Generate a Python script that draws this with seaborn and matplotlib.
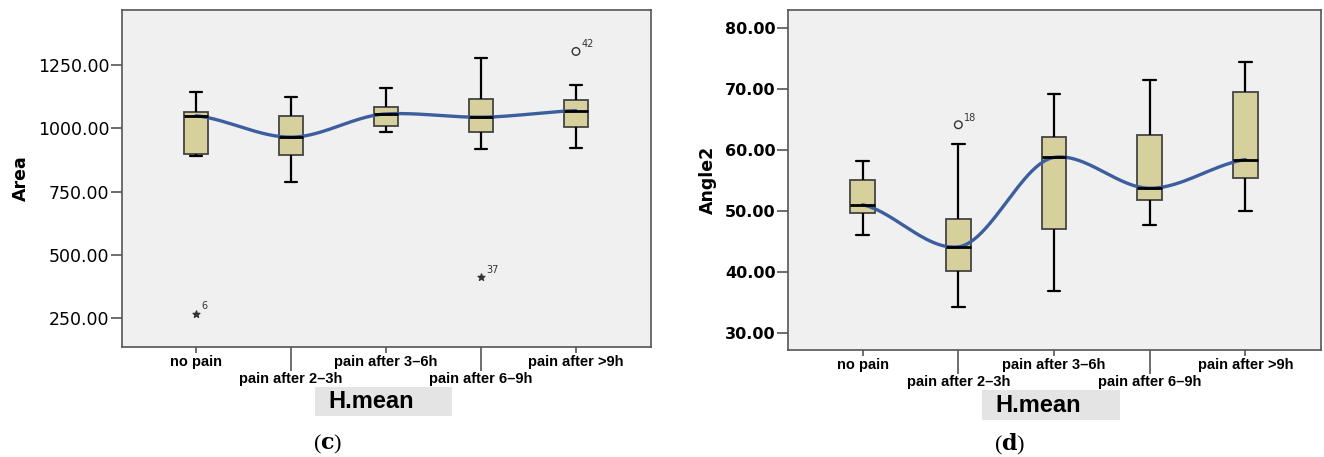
import numpy as np
import pandas as pd
import matplotlib
matplotlib.use("Agg")
import matplotlib.pyplot as plt
import seaborn as sns
from matplotlib.patches import Rectangle
from matplotlib.ticker import FixedLocator, FixedFormatter

# categories (H.mean groups)
groups = ["no pain", "pain after 2–3h", "pain after 3–6h", "pain after 6–9h", "pain after >9h"]

# panel (c): Area five-number summaries
area_lo = [889, 788, 985, 917, 922]
area_q1 = [899, 895, 1009, 987, 1004]
area_med = [1050, 965, 1057, 1044, 1070]
area_q3 = [1066, 1049, 1083, 1115, 1112]
area_hi = [1143, 1123, 1159, 1279, 1171]
# outliers: group index, value, case label, marker
area_out_idx = [0, 3, 4]
area_out_val = [267, 413, 1304]
area_out_lab = ["6", "37", "42"]
area_out_mk = ["*", "*", "o"]

# panel (d): Angle2 five-number summaries
ang_lo = [46.1, 34.3, 36.8, 47.7, 50.0]
ang_q1 = [49.6, 40.1, 47.1, 51.8, 55.3]
ang_med = [51.0, 44.1, 58.75, 53.7, 58.4]
ang_q3 = [55.1, 48.6, 62.1, 62.4, 69.5]
ang_hi = [58.1, 60.9, 69.1, 71.4, 74.3]
ang_out_idx = [1]
ang_out_val = [64.1]
ang_out_lab = ["18"]
ang_out_mk = ["o"]

BOX = "#d5d09c"
BG = "#f0f0f0"
LINE = "#3d5e9e"


def smooth(y, tension=0.5, n=200):
    # cardinal spline through the medians
    y = np.asarray(y, float)
    k = len(y)
    m = np.zeros(k)
    m[1:-1] = (1 - tension) * (y[2:] - y[:-2]) / 2
    m[0] = (1 - tension) * (y[1] - y[0])
    m[-1] = (1 - tension) * (y[-1] - y[-2])
    xs = np.linspace(0, k - 1, n)
    i = np.clip(np.floor(xs).astype(int), 0, k - 2)
    t = xs - i
    h00 = 2 * t ** 3 - 3 * t ** 2 + 1
    h10 = t ** 3 - 2 * t ** 2 + t
    h01 = -2 * t ** 3 + 3 * t ** 2
    h11 = t ** 3 - t ** 2
    ys = h00 * y[i] + h10 * m[i] + h01 * y[i + 1] + h11 * m[i + 1]
    return xs, ys


def draw_panel(ax, lo, q1, med, q3, hi, out_idx, out_val, out_lab, out_mk,
               ylabel, ylim, yticks, ybold, ysize):
    rows = []
    for g, vals in zip(groups, zip(lo, q1, med, q3, hi)):
        for v in vals:
            rows.append((g, v))
    df = pd.DataFrame(rows, columns=["group", "value"])
    sns.boxplot(data=df, x="group", y="value", order=groups, ax=ax,
                whis=(0, 100), width=0.26, color=BOX, saturation=1,
                linecolor="#222222", linewidth=1.3, showfliers=False,
                medianprops=dict(color="black", linewidth=2),
                whiskerprops=dict(color="black", linewidth=1.6),
                capprops=dict(color="black", linewidth=1.6),
                boxprops=dict(edgecolor="#444444", linewidth=1.3))
    xs, ys = smooth(med)
    sns.lineplot(x=xs, y=ys, ax=ax, color=LINE, linewidth=2.4, sort=False)
    for i, v, lab, mk in zip(out_idx, out_val, out_lab, out_mk):
        if mk == "o":
            ax.scatter([i], [v], marker="o", s=30, facecolors="none",
                       edgecolors="#333333", linewidths=1.0, zorder=5)
        else:
            ax.scatter([i], [v], marker="*", s=26, color="#333333", zorder=5)
        ax.annotate(lab, (i, v), xytext=(4, 3), textcoords="offset points",
                    fontsize=7, color="#333333")
    ax.set_facecolor(BG)
    ax.set_xlim(-0.78, 4.79)
    ax.set_ylim(*ylim)
    for s in ax.spines.values():
        s.set_visible(True)
        s.set_color("#555555")
        s.set_linewidth(1.2)
    ax.set_yticks(yticks)
    ax.set_yticklabels(["%.2f" % t for t in yticks],
                       fontweight="bold" if ybold else "normal",
                       fontsize=ysize, family="DejaVu Sans", color="black")
    ax.tick_params(axis="y", length=8, width=1.2, color="#555555", pad=1, left=True)
    # staggered category labels: major ticks short, minor ticks long
    ax.xaxis.set_major_locator(FixedLocator([0, 2, 4]))
    ax.xaxis.set_major_formatter(FixedFormatter([groups[0], groups[2], groups[4]]))
    ax.xaxis.set_minor_locator(FixedLocator([1, 3]))
    ax.xaxis.set_minor_formatter(FixedFormatter([groups[1], groups[3]]))
    ax.tick_params(axis="x", which="major", length=4, width=1.2, color="#555555",
                   pad=2, labelsize=10.5, labelcolor="black", bottom=True)
    ax.tick_params(axis="x", which="minor", length=17, width=1.2, color="#555555",
                   pad=1, labelsize=10.5, labelcolor="black", bottom=True)
    for t in ax.get_xticklabels(which="both"):
        t.set_fontweight("bold")
        t.set_family("Liberation Sans")
    ax.set_xlabel("")
    ax.set_ylabel(ylabel, fontsize=12.5, fontweight="bold", family="DejaVu Sans",
                  color="black", labelpad=6)


sns.set_style("white")
plt.rcParams["mathtext.fontset"] = "dejavuserif"
fig = plt.figure(figsize=(13.24, 4.57), dpi=100)
W, H = 1324, 457

axc = fig.add_axes([122 / W, 1 - 347 / H, 529 / W, 337 / H])
axd = fig.add_axes([788 / W, 1 - 350 / H, 533 / W, 340 / H])

draw_panel(axc, area_lo, area_q1, area_med, area_q3, area_hi,
           area_out_idx, area_out_val, area_out_lab, area_out_mk,
           "Area", (135, 1468), [250, 500, 750, 1000, 1250], False, 12.5)
draw_panel(axd, ang_lo, ang_q1, ang_med, ang_q3, ang_hi,
           ang_out_idx, ang_out_val, ang_out_lab, ang_out_mk,
           "Angle2", (27.2, 82.9), [30, 40, 50, 60, 70, 80], True, 11.5)

# x axis titles in grey boxes
for (x0, y0, x1, y1) in [(315, 387, 452, 416), (982, 390, 1120, 420)]:
    fig.patches.append(Rectangle((x0 / W, 1 - y1 / H), (x1 - x0) / W, (y1 - y0) / H,
                                 transform=fig.transFigure, facecolor="#e4e4e4",
                                 edgecolor="none"))
    fig.text((x0 + 13) / W, 1 - ((y0 + y1) / 2) / H, "H.mean", fontsize=17,
             fontweight="bold", family="Liberation Sans", color="black",
             ha="left", va="center")

# panel letters
for xc, letter in [(328, "c"), (1010, "d")]:
    fig.text(xc / W, 1 - 444 / H, "(" + r"$\mathbf{%s}$" % letter + ")",
             fontsize=16, family="Liberation Serif", color="black",
             ha="center", va="center")

fig.savefig("out.png", dpi=100)
